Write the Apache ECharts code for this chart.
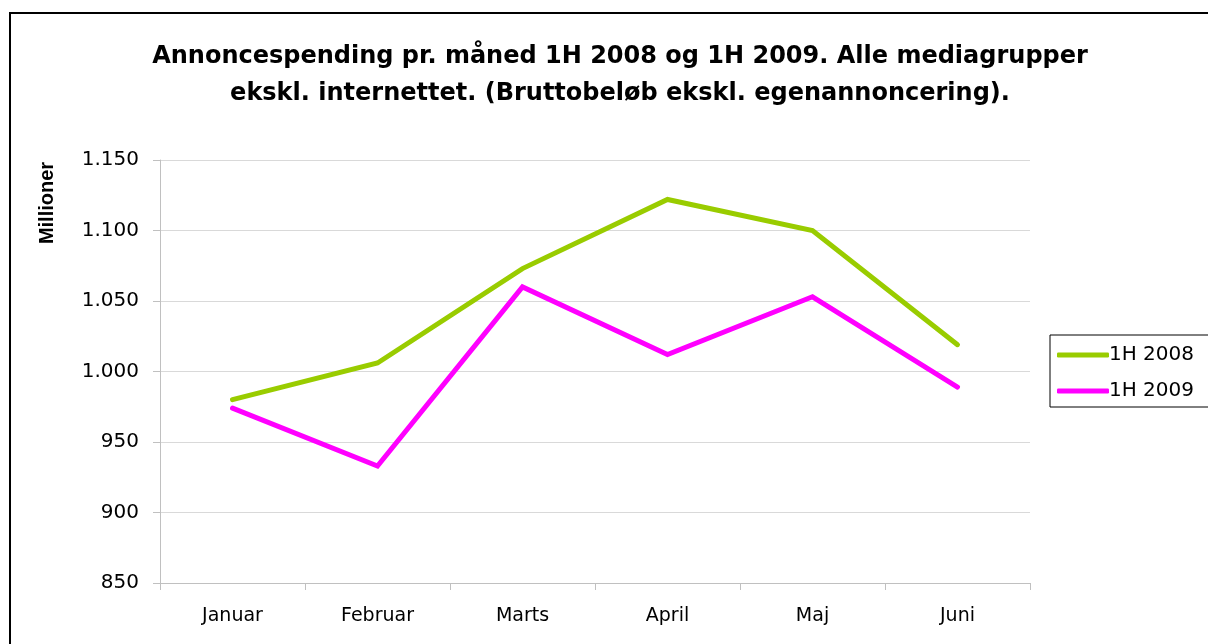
<!DOCTYPE html>
<html>
<head>
<meta charset="utf-8">
<script src="https://cdn.jsdelivr.net/npm/echarts@6/dist/echarts.min.js"></script>
<style>
html,body{margin:0;padding:0;background:#fff;overflow:hidden;}
#myChart{width:1208px;height:644px;}
</style>
</head>
<body>
<div id="myChart"></div>
<script>
var months = ['Januar','Februar','Marts','April','Maj','Juni'];
var h2008 = [980, 1006, 1073, 1122, 1100, 1019];
var h2009 = [974, 933, 1060, 1012, 1053, 989];
var seriesNames = ['1H 2008','1H 2009'];

function fmt(v){
    if (v >= 1000) {
        var s = String(v);
        return s.slice(0, s.length - 3) + '.' + s.slice(s.length - 3);
    }
    return String(v);
}

var chart = echarts.init(document.querySelector('#myChart'));
var option = {
    animation:false,
    title:{
        text:'Annoncespending pr. måned 1H 2008 og 1H 2009. Alle mediagrupper\nekskl. internettet. (Bruttobeløb ekskl. egenannoncering).',
        left:615,
        textAlign:'center',
        top:33,
        textStyle:{
            fontFamily:'DejaVu Sans',
            fontWeight:'bold',
            fontSize:24,
            lineHeight:37,
            color:'#000'
        }
    },
    graphic:[
        {type:'rect', shape:{x:10, y:13, width:1400, height:800}, style:{fill:'none', stroke:'#000', lineWidth:2}, silent:true},
        {type:'text', x:47, y:203, rotation:Math.PI/2, silent:true,
         style:{text:'Millioner', fontFamily:'Liberation Sans', fontWeight:'bold', fontSize:20, fill:'#000', align:'center', verticalAlign:'middle'}}
    ],
    legend:{
        orient:'vertical',
        left:1050,
        top:335,
        padding:[10,30,6,7],
        itemGap:16,
        itemWidth:52,
        itemHeight:5,
        icon:'roundRect',
        borderColor:'#000',
        borderWidth:1,
        textStyle:{fontFamily:'DejaVu Sans', fontSize:20, lineHeight:20, color:'#000', padding:[0,0,0,-5]},
        data:seriesNames
    },
    grid:{left:160, top:160, width:870, height:423, containLabel:false},
    xAxis:{
        type:'category',
        data:months,
        boundaryGap:true,
        axisLine:{lineStyle:{color:'#c0c0c0', width:1}},
        axisTick:{show:true, length:7, lineStyle:{color:'#c0c0c0'}},
        axisLabel:{fontFamily:'DejaVu Sans', fontSize:19, color:'#000', margin:24}
    },
    yAxis:{
        type:'value',
        min:850,
        max:1150,
        interval:50,
        axisLine:{show:true, lineStyle:{color:'#c0c0c0'}},
        axisTick:{show:true, length:7, lineStyle:{color:'#c0c0c0'}},
        splitLine:{lineStyle:{color:'#d9d9d9', width:1}},
        axisLabel:{fontFamily:'DejaVu Sans', fontSize:20, color:'#000', margin:21, formatter:fmt}
    },
    series:[
        {
            name:seriesNames[0],
            type:'line',
            data:h2008,
            symbol:'none',
            lineStyle:{color:'#99cc00', width:5, cap:'round', join:'miter'},
            itemStyle:{color:'#99cc00'}
        },
        {
            name:seriesNames[1],
            type:'line',
            data:h2009,
            symbol:'none',
            lineStyle:{color:'#ff00ff', width:5, cap:'round', join:'miter'},
            itemStyle:{color:'#ff00ff'}
        }
    ]
};
chart.setOption(option);
</script>
</body>
</html>
